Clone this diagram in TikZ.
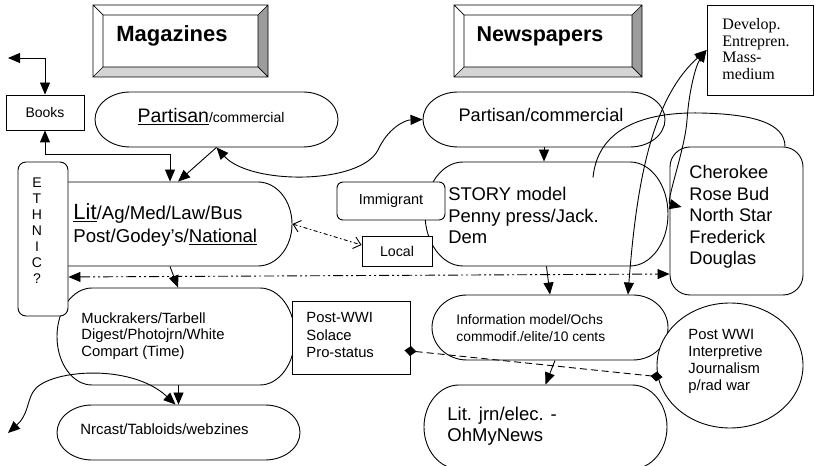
\documentclass[tikz,border=0pt]{standalone}
\usepackage{fontspec}
\setmainfont{Liberation Sans}
\newfontfamily\serifF{Liberation Serif}
\usetikzlibrary{arrows.meta,shapes.geometric,calc}
\definecolor{bevR}{HTML}{9C9C9C}
\definecolor{bevB}{HTML}{D4D4D4}
\newcommand{\fs}[2]{\fontsize{#1bp}{#2bp}\selectfont}
\newcommand{\tbox}[6]{%
  \pgfmathsetmacro\tbYm{(#3+#5)/2}%
  \pgfmathsetmacro\tbRy{(#5-#3)/2}%
  \pgfmathsetmacro\tbKa{0.5523*#6}%
  \pgfmathsetmacro\tbKb{0.5523*\tbRy}%
  \pgfmathsetmacro\tbXa{#2+#6}%
  \pgfmathsetmacro\tbXb{#4-#6}%
  \pgfmathsetmacro\tbW{#4-#2}%
  \pgfmathsetmacro\tbH{#5-#3}%
  \pgfmathsetmacro\tbXm{(#2+#4)/2}%
  \draw[shp] (\tbXa,#3) -- (\tbXb,#3)
    .. controls ({\tbXb+\tbKa},#3) and (#4,{\tbYm-\tbKb}) .. (#4,\tbYm)
    .. controls (#4,{\tbYm+\tbKb}) and ({\tbXb+\tbKa},#5) .. (\tbXb,#5)
    -- (\tbXa,#5)
    .. controls ({\tbXa-\tbKa},#5) and (#2,{\tbYm+\tbKb}) .. (#2,\tbYm)
    .. controls (#2,{\tbYm-\tbKb}) and ({\tbXa-\tbKa},#3) .. cycle;
  \node[inner sep=0,minimum width=\tbW bp,minimum height=\tbH bp] (#1) at (\tbXm,\tbYm) {};
}
\newcommand{\bevelbox}[4]{%
  \fill[white] (#1,#2) rectangle (#3,#4);
  \fill[bevR] (#3,#2) -- (#3,#4) -- ({#3-10},{#4-10}) -- ({#3-10},{#2+10}) -- cycle;
  \fill[bevB] (#1,#4) -- (#3,#4) -- ({#3-10},{#4-10}) -- ({#1+10},{#4-10}) -- cycle;
  \draw[line width=0.7bp] (#1,#2) rectangle (#3,#4) ({#1+10},{#2+10}) rectangle ({#3-10},{#4-10})
    (#1,#2) -- ({#1+10},{#2+10}) (#3,#2) -- ({#3-10},{#2+10})
    (#1,#4) -- ({#1+10},{#4-10}) (#3,#4) -- ({#3-10},{#4-10});
}
\tikzset{
  shp/.style={draw,line width=0.9bp,fill=white},
  boxn/.style={draw,line width=0.9bp,fill=white,inner sep=0},
  txt/.style={inner sep=0,anchor=north west,align=left},
  openarr/.style={{Straight Barb[length=7bp,width=12bp]}-{Straight Barb[length=7bp,width=12bp]}},
  diaarr/.style={{Diamond[length=12bp,width=10bp]}-{Diamond[length=12bp,width=10bp]}},
}
\begin{document}
\begin{tikzpicture}[x=1bp,y=-1bp,>={Triangle[length=12bp,width=10bp]},line width=0.9bp]
\fill[white] (0,0) rectangle (815,466);
\useasboundingbox (0,0) rectangle (815,466);
% header boxes
\bevelbox{93}{5}{268}{77}
\node[font=\bfseries\fs{22}{26},anchor=base,inner sep=0] (mag) at (172,42) {Magazines};
\bevelbox{454}{5}{642}{77}
\node[font=\bfseries\fs{21.5}{26},anchor=base,inner sep=0] (news) at (540,42) {Newspapers};
% terminator shapes
\tbox{magP}{95}{92}{338}{147}{35}
\tbox{newsP}{423}{92}{665}{147}{35}
\tbox{lit}{30}{182}{292}{266}{34}
\tbox{story}{425}{162}{668}{266}{38}
\tbox{muck}{57}{288}{295}{385}{35}
\tbox{info}{432}{295}{668}{360}{35}
\tbox{nrcast}{57}{405}{300}{460}{35}
\tbox{litj}{424}{385}{667}{469}{35}
% boxes
\node[boxn,rounded corners=8bp,minimum width=50bp,minimum height=154bp] (eth) at (43,239) {};
\node[boxn,rounded corners=6bp,minimum width=108bp,minimum height=38bp,font=\fs{14.5}{16}] (imm) at (391,201) {Immigrant};
\node[boxn,minimum width=70bp,minimum height=30bp,font=\fs{14.2}{16}] (local) at (397,251) {Local};
\node[boxn,minimum width=118bp,minimum height=73bp] (pww) at (351,337.5) {};
\node[boxn,rounded corners=20bp,minimum width=133bp,minimum height=148bp] (cher) at (736.5,221) {};
\node[boxn,ellipse,minimum width=146bp,minimum height=125bp] (pwe) at (730,365.5) {};
\node[boxn,minimum width=78bp,minimum height=35bp,font=\fs{14}{16}] (books) at (45,112.5) {Books};
\node[boxn,minimum width=106bp,minimum height=90bp] (develop) at (760,50) {};
% texts
\node[inner sep=0,anchor=base] (magPT) at (211,123) {{\fs{19.5}{22}\underline{Partisan}}{\fs{14}{16}/commercial}};
\node[inner sep=0,anchor=base,font=\fs{18.2}{21}] (newsPT) at (541,122) {Partisan/commercial};
\node[txt,font=\fs{18.6}{23}] (litT) at (73,203) {{\fs{22}{23}\underline{Lit}}/Ag/Med/Law/Bus\\Post/Godey’s/\underline{National}};
\node[txt,font=\fs{18.4}{21.5}] (storyT) at (448,187) {STORY model\\Penny press/Jack.\\Dem};
\node[txt,font=\fs{14.8}{16.8}] (muckT) at (81,312) {Muckrakers/Tarbell\\Digest/Photojrn/White\\Compart (Time)};
\node[txt,font=\fs{13.8}{17}] (infoT) at (456,314) {Information model/Ochs\\commodif./elite/10 cents};
\node[txt,font=\fs{14.9}{17}] (nrcastT) at (80,423) {Nrcast/Tabloids/webzines};
\node[txt,font=\fs{18.5}{21}] (litjT) at (447,407) {Lit. jrn/elec. -\\OhMyNews};
\node[txt,font=\fs{14.8}{17.5}] (pwwT) at (306,312) {Post-WWI\\Solace\\Pro-status};
\node[txt,font=\fs{14.8}{17}] (pweT) at (688,329) {Post WWI\\Interpretive\\Journalism\\p/rad war};
\node[txt,font=\fs{18.2}{21.5}] (cherT) at (689,165) {Cherokee\\Rose Bud\\North Star\\Frederick\\Douglas};
\node[txt,font=\serifF\fs{16}{16.5}] (developT) at (722,18) {Develop.\\Entrepren.\\Mass-\\medium};
\node[inner sep=0,anchor=north,align=center,font=\fs{14}{16}] (ethT) at (37,177) {E\\T\\H\\N\\I\\C\\?};
% connectors
\coordinate (booksOut) at (8,58);
\draw[<->] (booksOut) -| (books.north);
\draw[<->] (books.south) |- ($(lit.north)+(9,-27)$) -- ($(lit.north)+(9,0)$);
\draw[->] (magP.south) -- ($(lit.north)+(17,0)$);
\draw[<->] (magP.south) .. controls (250,185) and (360,185) .. (378,150) .. controls (388,128) and (405,120) .. (newsP.west);
\draw[->] (newsP.south) -- (newsP.south |- story.north);
\draw[->] (story.south) -- (info.north);
\draw[->] ($(info.south)+(5,0)$) -- (litj.north);
\draw[->] ($(lit.south)+(9,0)$) -- ($(muck.north)+(2,0)$);
\draw[->] (muck.south -| nrcast.north) -- (nrcast.north);
\coordinate (llOut) at (8,433);
\draw[<->] (llOut) .. controls (28,415) and (27,402) .. (33,392) .. controls (45,370) and (130,362) .. ($(nrcast.north)+(-3,0)$);
\draw[openarr,dash pattern=on 4bp off 2.5bp on 1.5bp off 2.5bp] (lit.east) -- ($(local.west)+(0,-6)$);
\draw[<->,dash pattern=on 10bp off 3bp on 2bp off 3bp on 2bp off 3bp] ($(eth.east)+(0,38)$) -- ($(cher.west)+(0,53)$);
\draw[diaarr,dash pattern=on 7bp off 4bp,shorten <=-6bp,shorten >=-6bp] ($(pww.east)+(0,13.5)$) -- ($(pwe.west)+(0,11)$);
\draw[<->] ($(info.north)+(78,0)$) .. controls (636,190) and (650,100) .. (develop.west);
\draw[<->] ($(cher.west)+(12,-14)$) .. controls (665,203) and (685,150) .. (687,120) .. controls (689,90) and (696,65) .. (develop.west);
\draw ($(story.north)+(46.5,16)$) .. controls (598,125) and (650,112) .. (700,113) .. controls (750,114) and (785,122) .. ($(cher.north)+(48.5,0)$);
\end{tikzpicture}
\end{document}
